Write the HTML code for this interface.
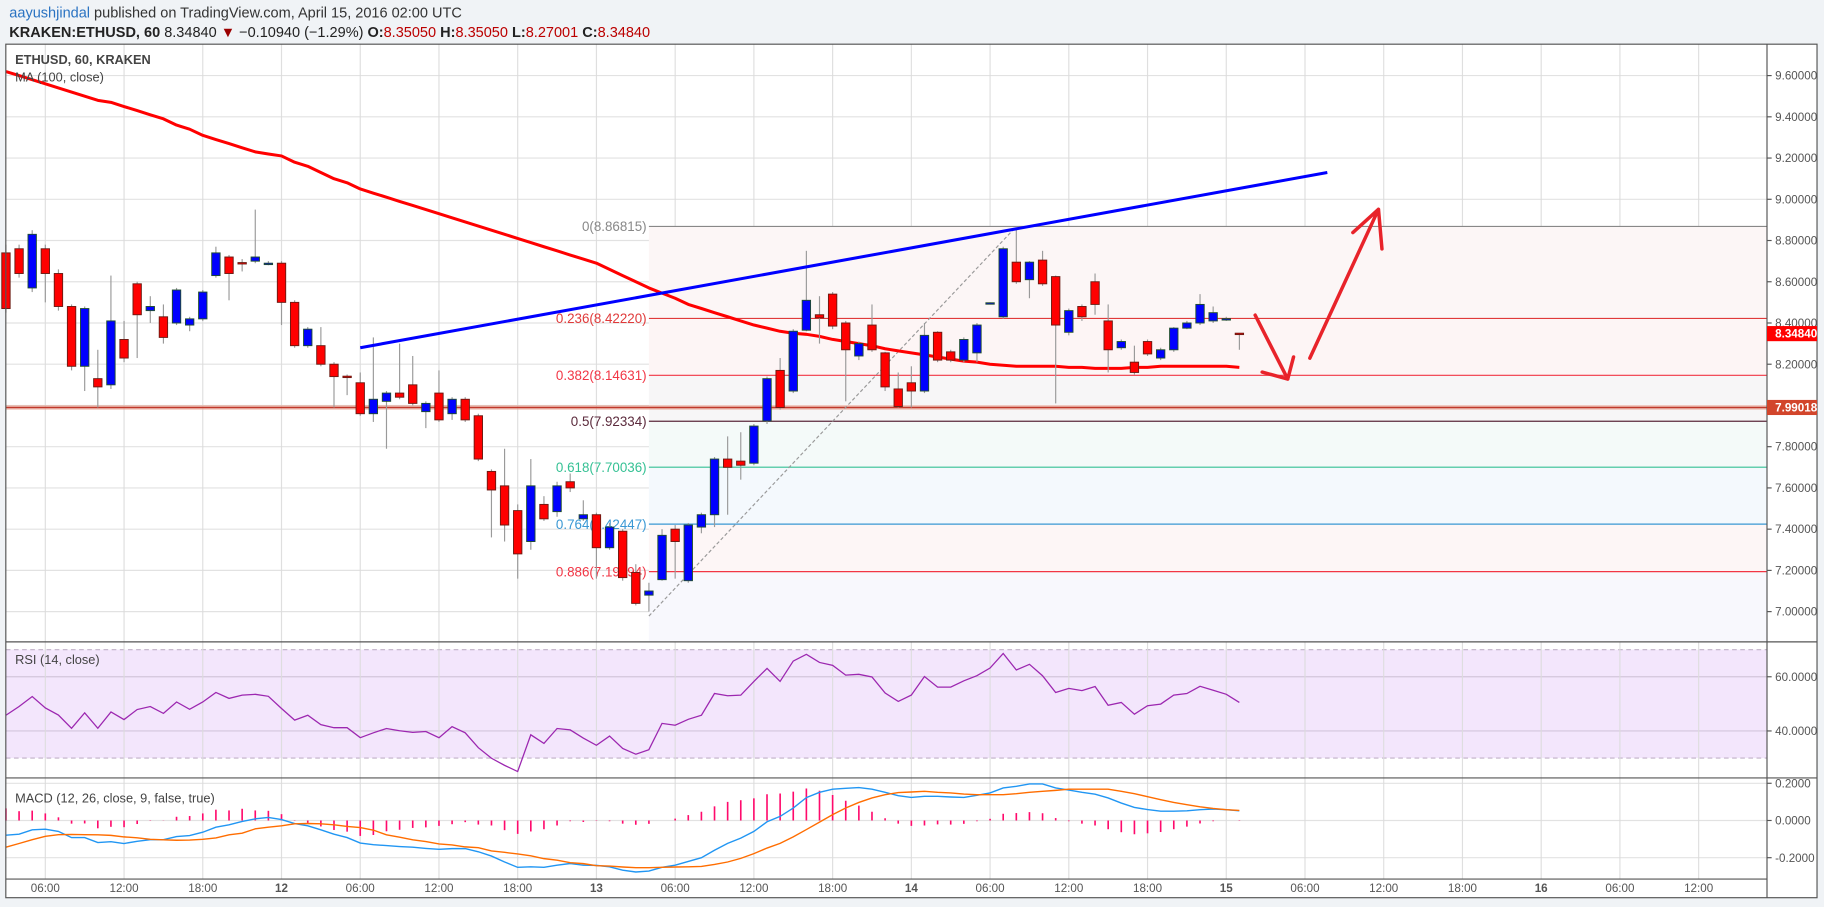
<!DOCTYPE html>
<html><head><meta charset="utf-8"><title>ETHUSD chart</title>
<style>
html,body{margin:0;padding:0;background:#f0f3f6;}
body{width:1824px;height:907px;overflow:hidden;font-family:"Liberation Sans",sans-serif;}
svg{display:block;}
text{font-family:"Liberation Sans",sans-serif;}
</style></head>
<body>
<svg id="chart" width="1824" height="907" viewBox="0 0 1568 780" preserveAspectRatio="none" xmlns="http://www.w3.org/2000/svg">
  <rect x="0" y="0" width="1568" height="780" fill="#f0f3f6"/>
  <text x="8" y="15" font-size="12.5" fill="#333"><tspan fill="#2a73c2">aayushjindal</tspan> published on TradingView.com, April 15, 2016 02:00 UTC</text>
  <text x="8" y="32" font-size="12.5" fill="#222"><tspan font-weight="bold">KRAKEN:ETHUSD, 60</tspan> 8.34840 <tspan fill="#9b0000">▼</tspan> −0.10940 (−1.29%) <tspan font-weight="bold">O:</tspan><tspan fill="#b00">8.35050</tspan> <tspan font-weight="bold">H:</tspan><tspan fill="#b00">8.35050</tspan> <tspan font-weight="bold">L:</tspan><tspan fill="#b00">8.27001</tspan> <tspan font-weight="bold">C:</tspan><tspan fill="#b00">8.34840</tspan></text>
  <rect x="5" y="38" width="1557" height="734" fill="#ffffff"/>
  <g id="layer"></g>
</svg>
<script>
// ---------- data ----------
const candleOpen = [8.74,8.76,8.57,8.76,8.64,8.48,8.19,8.13,8.10,8.32,8.59,8.46,8.43,8.40,8.39,8.42,8.63,8.72,8.693,8.70,8.688,8.69,8.50,8.29,8.29,8.20,8.142,8.11,7.96,8.02,8.06,8.10,7.97,8.06,7.96,8.03,7.95,7.68,7.61,7.49,7.34,7.52,7.485,7.63,7.45,7.47,7.31,7.39,7.19,7.08,7.155,7.40,7.15,7.41,7.47,7.74,7.73,7.72,7.925,8.17,8.07,8.365,8.44,8.54,8.40,8.24,8.39,8.255,8.08,8.11,8.07,8.355,8.26,8.22,8.255,8.496,8.43,8.695,8.61,8.705,8.625,8.355,8.48,8.60,8.41,8.28,8.21,8.31,8.23,8.27,8.375,8.40,8.41,8.420,8.3505];
const candleClose = [8.47,8.64,8.83,8.64,8.48,8.19,8.47,8.09,8.41,8.23,8.44,8.48,8.33,8.56,8.42,8.55,8.74,8.64,8.688,8.72,8.690,8.50,8.29,8.37,8.20,8.14,8.140,7.96,8.03,8.06,8.04,8.01,8.01,7.93,8.03,7.93,7.74,7.59,7.42,7.28,7.61,7.45,7.61,7.60,7.47,7.31,7.41,7.165,7.04,7.10,7.37,7.34,7.42,7.47,7.74,7.70,7.71,7.90,8.13,7.99,8.36,8.51,8.425,8.385,8.27,8.30,8.27,8.09,7.995,8.07,8.34,8.22,8.22,8.32,8.39,8.498,8.76,8.60,8.695,8.59,8.39,8.46,8.43,8.49,8.27,8.31,8.16,8.25,8.27,8.375,8.40,8.49,8.45,8.421,8.3484];
const candleHigh = [8.78,8.78,8.85,8.78,8.66,8.49,8.48,8.27,8.63,8.41,8.60,8.53,8.49,8.57,8.43,8.56,8.77,8.73,8.71,8.95,8.70,8.70,8.51,8.38,8.38,8.21,8.15,8.16,8.33,8.07,8.30,8.24,8.02,8.17,8.04,8.04,7.96,7.69,7.79,7.52,7.74,7.56,7.63,7.67,7.54,7.48,7.43,7.40,7.23,7.14,7.40,7.42,7.43,7.48,7.75,7.85,7.87,7.91,8.14,8.23,8.37,8.75,8.53,8.55,8.41,8.31,8.49,8.26,8.16,8.19,8.40,8.36,8.27,8.33,8.40,8.50,8.77,8.86,8.70,8.75,8.63,8.47,8.49,8.64,8.49,8.32,8.29,8.32,8.28,8.38,8.41,8.54,8.48,8.43,8.3505];
const candleLow = [8.45,8.62,8.55,8.50,8.46,8.17,8.07,7.99,8.08,8.21,8.23,8.40,8.30,8.39,8.36,8.41,8.62,8.51,8.65,8.69,8.68,8.39,8.28,8.28,8.19,7.99,8.05,7.95,7.92,7.79,8.03,8.00,7.89,7.92,7.93,7.92,7.73,7.36,7.34,7.16,7.30,7.44,7.46,7.58,7.44,7.16,7.30,7.15,7.03,7.00,7.15,7.16,7.14,7.38,7.41,7.47,7.64,7.71,7.91,7.98,8.06,8.36,8.30,8.37,8.02,8.22,8.26,8.07,7.99,7.99,8.06,8.21,8.21,8.21,8.21,8.49,8.42,8.59,8.52,8.58,8.01,8.34,8.41,8.44,8.16,8.27,8.15,8.24,8.22,8.26,8.37,8.39,8.40,8.41,8.27];
const maValues = [9.62,9.60,9.58,9.56,9.54,9.52,9.50,9.48,9.47,9.45,9.43,9.41,9.39,9.36,9.34,9.31,9.29,9.27,9.25,9.23,9.22,9.21,9.18,9.16,9.13,9.10,9.08,9.05,9.03,9.01,8.99,8.97,8.95,8.93,8.91,8.89,8.87,8.85,8.83,8.81,8.79,8.77,8.75,8.73,8.71,8.69,8.66,8.63,8.60,8.57,8.545,8.52,8.49,8.47,8.45,8.43,8.41,8.39,8.375,8.36,8.35,8.345,8.335,8.32,8.31,8.30,8.29,8.275,8.265,8.255,8.245,8.235,8.225,8.215,8.21,8.20,8.195,8.19,8.19,8.19,8.19,8.185,8.185,8.18,8.18,8.18,8.185,8.185,8.19,8.19,8.19,8.19,8.19,8.19,8.185];
const rsiValues = [45.8,49,52.7,48.5,45.9,41,46.7,41,47,44.2,47.9,49,46.5,50.7,48,50.7,54.2,52,53.2,53.5,52.8,48.3,44,45.8,42.3,41.2,41.2,37.5,39.3,40.9,40.1,39.5,39.8,37.5,41.6,39.3,33.8,29.9,27.3,25,38.6,35.4,40.9,40.4,37.4,34.7,38.1,33.5,31.4,33.1,42.8,42.1,44.3,45.8,53.8,53,53.2,58.3,63.1,58.3,65.8,68.3,65.3,64.2,60.6,60.9,59.9,54,50.9,53.2,60.1,56.2,56.2,58.5,60.4,63.2,68.6,62.5,64.6,60.4,54.2,55.7,54.9,56.4,49.5,50.5,46.2,49.3,49.9,53.2,53.8,56.5,55,53.5,50.5];
const macdValues = [-0.079,-0.074,-0.05,-0.047,-0.059,-0.092,-0.092,-0.119,-0.114,-0.124,-0.112,-0.103,-0.103,-0.086,-0.081,-0.063,-0.036,-0.023,-0.005,0.009,0.016,0.005,-0.016,-0.029,-0.05,-0.074,-0.092,-0.121,-0.13,-0.135,-0.14,-0.144,-0.15,-0.155,-0.151,-0.151,-0.168,-0.191,-0.223,-0.252,-0.249,-0.252,-0.24,-0.231,-0.24,-0.241,-0.249,-0.267,-0.277,-0.272,-0.252,-0.24,-0.22,-0.2,-0.16,-0.123,-0.095,-0.059,-0.007,0.022,0.067,0.123,0.151,0.168,0.173,0.177,0.168,0.151,0.133,0.124,0.13,0.13,0.126,0.124,0.135,0.148,0.175,0.184,0.196,0.196,0.175,0.164,0.151,0.141,0.121,0.094,0.07,0.059,0.05,0.05,0.052,0.058,0.061,0.058,0.052];
const signalValues = [-0.144,-0.124,-0.103,-0.085,-0.076,-0.075,-0.076,-0.077,-0.08,-0.088,-0.093,-0.101,-0.104,-0.106,-0.105,-0.101,-0.094,-0.077,-0.068,-0.045,-0.036,-0.029,-0.018,-0.016,-0.018,-0.023,-0.032,-0.038,-0.052,-0.077,-0.09,-0.104,-0.113,-0.126,-0.131,-0.142,-0.146,-0.164,-0.171,-0.18,-0.19,-0.205,-0.213,-0.227,-0.232,-0.243,-0.245,-0.25,-0.254,-0.254,-0.252,-0.25,-0.249,-0.247,-0.236,-0.223,-0.204,-0.178,-0.148,-0.123,-0.088,-0.049,-0.009,0.031,0.067,0.097,0.121,0.139,0.15,0.153,0.157,0.151,0.148,0.142,0.139,0.139,0.139,0.144,0.151,0.157,0.162,0.168,0.168,0.168,0.168,0.157,0.144,0.128,0.112,0.097,0.085,0.074,0.065,0.058,0.054];
const priceTicks = [9.6,9.4,9.2,9.0,8.8,8.6,8.4,8.2,8.0,7.8,7.6,7.4,7.2,7.0];
const priceTickLabels = ["9.60000","9.40000","9.20000","9.00000","8.80000","8.60000","8.40000","8.20000","8.00000","7.80000","7.60000","7.40000","7.20000","7.00000"];
const rsiTicks = [60,40];
const rsiTickLabels = ["60.0000","40.0000"];
const macdTicks = [0.2,0,-0.2];
const macdTickLabels = ["0.2000","0.0000","-0.2000"];
const timeTickIndex = [3,9,15,21,27,33,39,45,51,57,63,69,75,81,87,93,99,105,111,117,123,129];
const timeTickLabels = ["06:00","12:00","18:00","12","06:00","12:00","18:00","13","06:00","12:00","18:00","14","06:00","12:00","18:00","15","06:00","12:00","18:00","16","06:00","12:00"];
const fibRatios = [0,0.236,0.382,0.5,0.618,0.764,0.886];
const fibHigh = 8.86815, fibLow = 6.978522, fibStartIndex = 49, fibEndIndex = 77;
const trendStart = [27, 8.28], trendEnd = [100.7, 9.13];
const supportLevel = 7.99018, lastPrice = 8.34840;

// ---------- axes ----------
const PL = 5, PR = 1519, MT = 38, MB = 552, RT = 552, RB = 669, CT = 669, CB = 756;
const xOf = i => 242 + (i - 21) * 11.28;
const yP = p => 65 + (9.6 - p) * 177.3;
const yR = r => 582 + (60 - r) * 2.33;
const yM = m => 705.6 - m * 160;
const NS = "http://www.w3.org/2000/svg";
const layer = document.getElementById('layer');
function mk(tag, attrs, parent) {
  const e = document.createElementNS(NS, tag);
  for (const k in attrs) e.setAttribute(k, attrs[k]);
  (parent || layer).appendChild(e);
  return e;
}
function group(){ return mk('g', {}); }

const grid = group();


priceTicks.forEach(p => mk('line', {x1:PL,x2:PR,y1:yP(p),y2:yP(p),stroke:'#e2e2e2','stroke-width':1}, grid));
rsiTicks.forEach(r => mk('line', {x1:PL,x2:PR,y1:yR(r),y2:yR(r),stroke:'#d3c6db','stroke-width':1}, grid));
macdTicks.forEach(m => mk('line', {x1:PL,x2:PR,y1:yM(m),y2:yM(m),stroke:'#e2e2e2','stroke-width':1}, grid));

const band = mk('rect', {x:PL,y:yR(70),width:PR-PL,height:yR(30)-yR(70),fill:'#f3e6fc'});


[70,30].forEach(r => {
  const l = mk('line', {x1:PL,x2:PR,y1:yR(r),y2:yR(r),stroke:'#c0b0c8','stroke-dasharray':'4 3','stroke-width':1});
  
  
});

const fibPrices = fibRatios.map(r => fibHigh - r * (fibHigh - fibLow));
const fibFills = ['#fcf6f6','#fdf5f5','#f7f6f7','#f4faf9','#f4f9fd','#fdf6f6'];
const fx0 = xOf(fibStartIndex);
const fib = group();


for (let k = 0; k < fibPrices.length - 1; k++) {
  mk('rect', {x:fx0,y:yP(fibPrices[k]),width:PR-fx0,height:yP(fibPrices[k+1])-yP(fibPrices[k]),fill:fibFills[k]}, fib);
}
mk('rect', {x:fx0,y:yP(fibPrices[6]),width:PR-fx0,height:MB-yP(fibPrices[6]),fill:'#f8f8fd'}, fib);

timeTickIndex.forEach(i => {
  if (xOf(i) < PR) mk('line', {x1:xOf(i),x2:xOf(i),y1:MT,y2:CB,stroke:'#dcdcdc','stroke-width':1,'stroke-opacity':0.9}, grid);
});
layer.appendChild(grid);
layer.appendChild(fib);

const fibColors = ['#888888','#e03a3a','#f23645','#5b2a3c','#35c194','#3a98d4','#f23645'];
fibPrices.forEach((p, k) => {
  const l = mk('line', {x1:fx0,x2:PR,y1:yP(p),y2:yP(p),stroke:fibColors[k],'stroke-width':1}, fib);
  
  
  const t = mk('text', {x:fx0-2,y:yP(p)+4,'text-anchor':'end','font-size':11.5,fill:fibColors[k]}, fib);
  t.textContent = fibRatios[k] + '(' + p.toFixed(5) + ')';
  
  
});

const sup = group();


mk('line', {x1:PL,x2:PR,y1:yP(supportLevel),y2:yP(supportLevel),stroke:'#e8a090','stroke-width':4,'stroke-opacity':0.6}, sup);
mk('line', {x1:PL,x2:PR,y1:yP(supportLevel),y2:yP(supportLevel),stroke:'#c0392b','stroke-width':1.3}, sup);

const diag = mk('line', {x1:xOf(fibStartIndex),y1:yP(fibLow),x2:xOf(fibEndIndex),y2:yP(fibHigh),stroke:'#999','stroke-width':1,'stroke-dasharray':'3 2'});



const maPath = maValues.map((v, i) => (i ? 'L' : 'M') + xOf(i).toFixed(1) + ' ' + yP(v).toFixed(1)).join(' ');
const ma = mk('path', {d:maPath,fill:'none',stroke:'#ff0000','stroke-width':2.6,'stroke-linejoin':'round'});



const cg = group();


candleOpen.forEach((o, i) => {
  const c = candleClose[i], x = xOf(i), up = c >= o;
  const g = mk('g', {}, cg);
  
  
  mk('line', {x1:x,x2:x,y1:yP(candleHigh[i]),y2:yP(candleLow[i]),stroke:'#9a9a9a','stroke-width':1}, g);
  const top = yP(Math.max(o, c)), h = Math.max(1.2, yP(Math.min(o, c)) - top);
  mk('rect', {x:x-3.6,y:top,width:7.2,height:h,fill:up?'#0000ff':'#ff0000',stroke:up?'#1f4d2e':'#6b1a12','stroke-width':0.8}, g);
});

const tl = mk('line', {x1:xOf(trendStart[0]),y1:yP(trendStart[1]),x2:xOf(trendEnd[0]),y2:yP(trendEnd[1]),stroke:'#0000ff','stroke-width':2.6});



const arr = group();


const ast = {fill:'none',stroke:'#e8232a','stroke-width':3,'stroke-linecap':'round','stroke-linejoin':'round'};
mk('path', Object.assign({d:'M1079 271 L1107 326 M1085 320 L1107 326 L1112 307'}, ast), arr);
mk('path', Object.assign({d:'M1126 308 L1185 180 M1163 200 L1185 180 L1188 214'}, ast), arr);

const rsiPath = rsiValues.map((v, i) => (i ? 'L' : 'M') + xOf(i).toFixed(1) + ' ' + yR(v).toFixed(1)).join(' ');
const rl = mk('path', {d:rsiPath,fill:'none',stroke:'#9c27b0','stroke-width':1.1});



const hg = group();


macdValues.forEach((m, i) => {
  const h = m - signalValues[i];
  mk('line', {x1:xOf(i),x2:xOf(i),y1:yM(0),y2:yM(h),stroke:'#ff0a6c','stroke-width':1.4}, hg);
});
const macdPath = macdValues.map((v, i) => (i ? 'L' : 'M') + xOf(i).toFixed(1) + ' ' + yM(v).toFixed(1)).join(' ');
const ml = mk('path', {d:macdPath,fill:'none',stroke:'#2196f3','stroke-width':1.2});


const sigPath = signalValues.map((v, i) => (i ? 'L' : 'M') + xOf(i).toFixed(1) + ' ' + yM(v).toFixed(1)).join(' ');
const sl = mk('path', {d:sigPath,fill:'none',stroke:'#ff6d00','stroke-width':1.2});



const fr = group();


mk('rect', {x:PL,y:MT,width:1562-PL,height:772-MT,fill:'none',stroke:'#555','stroke-width':1}, fr);
[MB, RB].forEach(y => mk('line', {x1:PL,x2:1562,y1:y,y2:y,stroke:'#555','stroke-width':1}, fr));
mk('line', {x1:PL,x2:PR,y1:CB,y2:CB,stroke:'#555','stroke-width':1}, fr);
mk('line', {x1:PR,x2:PR,y1:MT,y2:772,stroke:'#555','stroke-width':1}, fr);

const ax = group();


priceTicks.forEach((p, k) => {
  mk('line', {x1:PR,x2:PR+4,y1:yP(p),y2:yP(p),stroke:'#555'}, ax);
  const t = mk('text', {x:PR+7,y:yP(p)+3.5,'font-size':10,fill:'#555'}, ax);
  t.textContent = priceTickLabels[k];
});
rsiTicks.forEach((r, k) => {
  mk('line', {x1:PR,x2:PR+4,y1:yR(r),y2:yR(r),stroke:'#555'}, ax);
  const t = mk('text', {x:PR+7,y:yR(r)+3.5,'font-size':10,fill:'#555'}, ax);
  t.textContent = rsiTickLabels[k];
});
macdTicks.forEach((m, k) => {
  mk('line', {x1:PR,x2:PR+4,y1:yM(m),y2:yM(m),stroke:'#555'}, ax);
  const t = mk('text', {x:PR+7,y:yM(m)+3.5,'font-size':10,fill:'#555'}, ax);
  t.textContent = macdTickLabels[k];
});
[[lastPrice,'#ff0000','last-price-tag'],[supportLevel,'#d2452b','support-price-tag']].forEach(([p, col, nm]) => {
  const g = mk('g', {}, ax);
  
  
  mk('rect', {x:PR,y:yP(p)-6.5,width:1562-PR,height:13,fill:col}, g);
  const t = mk('text', {x:PR+7,y:yP(p)+3.5,'font-size':10,'font-weight':'bold',fill:'#fff'}, g);
  t.textContent = p.toFixed(5);
});

const ta = group();


timeTickIndex.forEach((i, k) => {
  const lbl = timeTickLabels[k];
  const t = mk('text', {x:xOf(i),y:767,'text-anchor':'middle','font-size':10,fill:'#555','font-weight':lbl.length <= 2 ? 'bold' : 'normal'}, ta);
  t.textContent = lbl;
});

const lg = group();


[['ETHUSD, 60, KRAKEN',55,'bold','symbol-legend'],['MA (100, close)',70,'normal','ma-legend'],['RSI (14, close)',571,'normal','rsi-legend'],['MACD (12, 26, close, 9, false, true)',690,'normal','macd-legend']].forEach(([s, y, w, nm]) => {
  const t = mk('text', {x:13,y:y,'font-size':11,fill:'#444','font-weight':w}, lg);
  t.textContent = s;
  
  
});
</script>
</body></html>
